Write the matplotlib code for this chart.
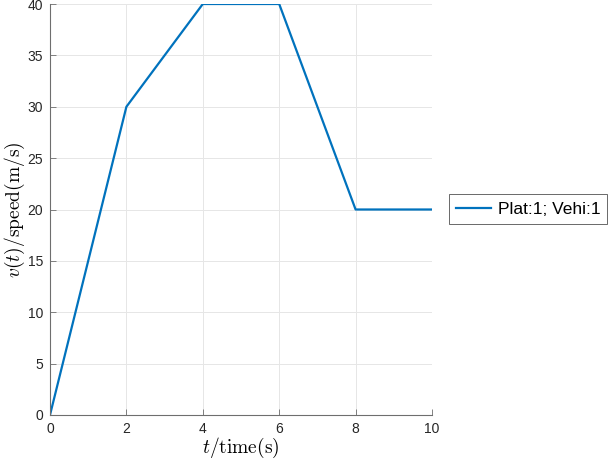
import numpy as np
import matplotlib
matplotlib.use("Agg")
from matplotlib import pyplot as plt

plt.rcParams["font.family"] = ["Liberation Sans", "DejaVu Sans"]
plt.rcParams["mathtext.fontset"] = "cm"

t = [0, 2, 4, 6, 8, 10]
v = [0, 30, 40, 40, 20, 20]
label = "Plat:1; Vehi:1"

fig = plt.figure(figsize=(6.1, 4.63), dpi=100)
ax = fig.add_axes([50/610, 48/463, 382/610, 411/463])
ax.plot(t, v, color="#0072BD", lw=1.6, label=label)
ax.set_xlim(0, 10)
ax.set_ylim(0, 40)
ax.set_xticks(np.arange(0, 11, 2))
ax.set_yticks(np.arange(0, 41, 5))
ax.grid(True, color="#e6e6e6", lw=0.7)
ax.set_axisbelow(True)
for s in ["top", "right"]:
    ax.spines[s].set_visible(False)
for s in ["left", "bottom"]:
    ax.spines[s].set_color("#6e6e6e")
    ax.spines[s].set_linewidth(0.8)
ax.tick_params(direction="in", length=4, width=0.6, color="#6e6e6e",
               labelsize=10, labelcolor="#262626", pad=5)
ax.set_xlabel(r"$t/\mathrm{time(s)}$", fontsize=14, labelpad=0)
ax.set_ylabel(r"$v(t)/\mathrm{speed(m/s)}$", fontsize=14, labelpad=0)
leg = ax.legend(loc="center left", bbox_to_anchor=(449/610, 1 - 209/463),
                bbox_transform=fig.transFigure, fontsize=12.5, frameon=True,
                fancybox=False, edgecolor="#262626", handlelength=2.0,
                borderpad=0.4, handletextpad=0.4, borderaxespad=0)
leg.get_frame().set_linewidth(0.6)
fig.savefig("out.png", dpi=100)
